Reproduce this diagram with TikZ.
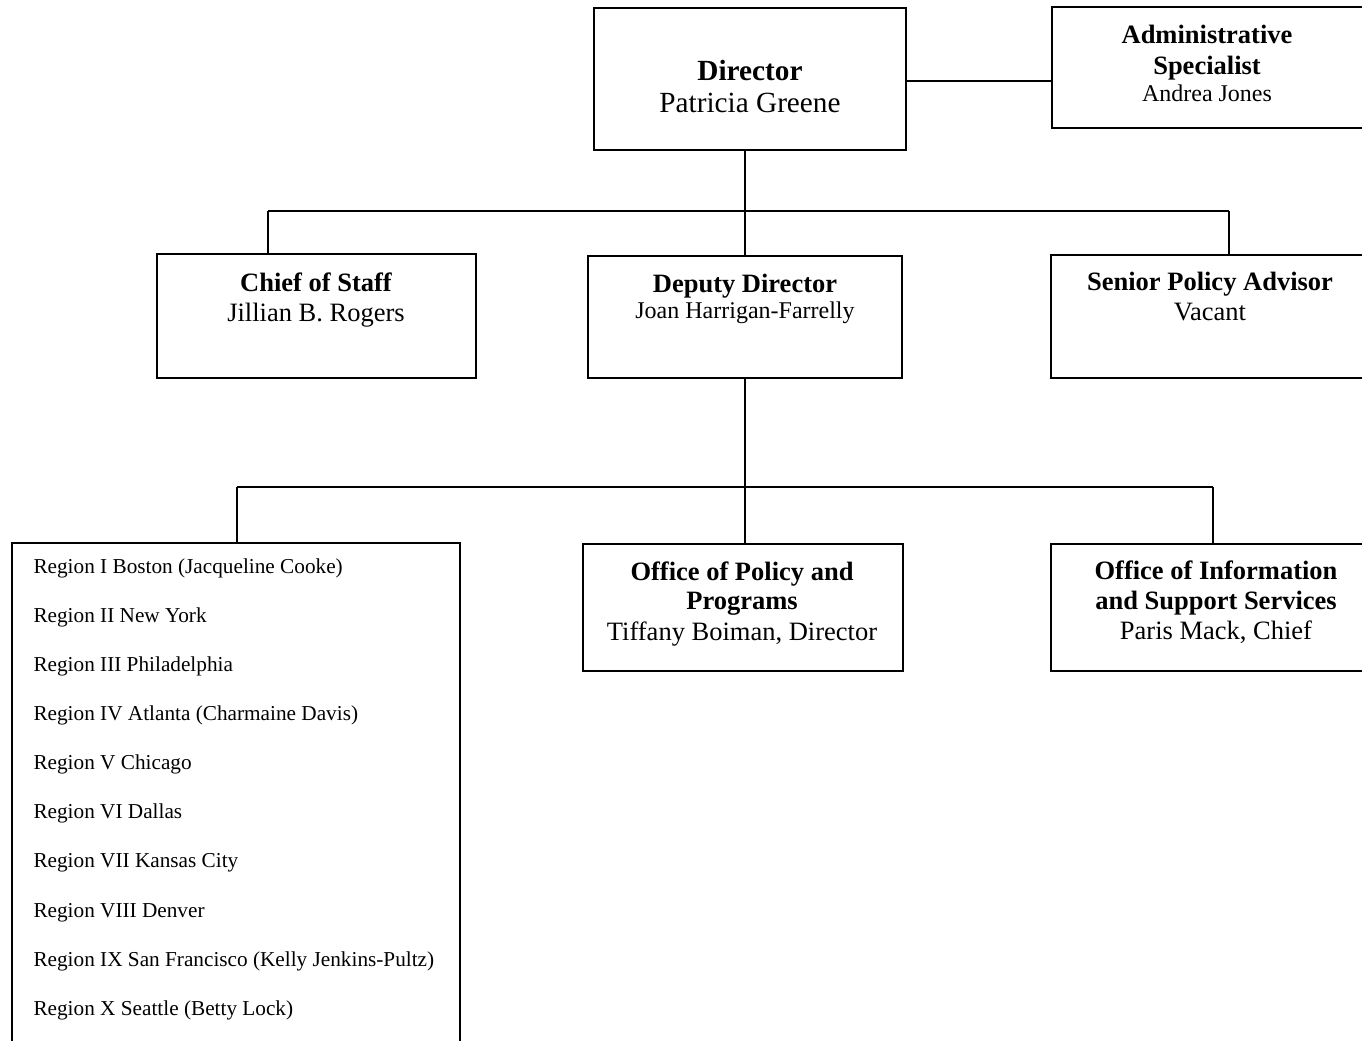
\documentclass[tikz,border=0pt]{standalone}
\usepackage{fontspec}
\setmainfont{Liberation Serif}
\usetikzlibrary{fit}
\tikzset{
  orgbox/.style={draw, line width=0.8pt, inner sep=0pt},
  link/.style={line width=0.8pt},
  txt/.style={anchor=base, inner sep=0pt},
  lead/.style={txt, font=\fontsize{11.7}{14}\selectfont},
  head/.style={txt, font=\fontsize{10.6}{13}\selectfont},
  sub/.style={txt, font=\fontsize{9.6}{12}\selectfont},
  region/.style={anchor=base west, inner sep=0pt, font=\fontsize{8.5}{10}\selectfont},
}
\begin{document}
\begin{tikzpicture}[x=0.4pt, y=-0.4pt]
  \useasboundingbox (0,0) rectangle (1362,1041);

  % boxes
  \node[orgbox, fit={(594,8) (906,150)}] (dir) {};
  \node[orgbox, fit={(1052,7) (1380,128)}] (adm) {};
  \node[orgbox, fit={(157,254) (476,378)}] (cos) {};
  \node[orgbox, fit={(588,256) (902,378)}] (dep) {};
  \node[orgbox, fit={(1051,255) (1380,378)}] (spa) {};
  \node[orgbox, fit={(12,543) (460,1070)}] (reg) {};
  \node[orgbox, fit={(583,544) (903,671)}] (opp) {};
  \node[orgbox, fit={(1051,544) (1380,671)}] (ois) {};

  % texts
  \node[lead] (dirA) at (750,80) {\bfseries Director};
  \node[lead] (dirB) at (750,112) {Patricia Greene};

  \node[head] (admA) at (1207,43) {\bfseries Administrative};
  \node[head] (admB) at (1207,74) {\bfseries Specialist};
  \node[sub]  (admC) at (1207,101) {Andrea Jones};

  \node[head] (cosA) at (316,291) {\bfseries Chief of Staff};
  \node[head] (cosB) at (316,321) {Jillian B. Rogers};

  \node[head] (depA) at (745,292) {\bfseries Deputy Director};
  \node[sub]  (depB) at (745,318) {Joan Harrigan-Farrelly};

  \node[head] (spaA) at (1210,290) {\bfseries Senior Policy Advisor};
  \node[head] (spaB) at (1210,320) {Vacant};

  \node[head] (oppA) at (742,580) {\bfseries Office of Policy and};
  \node[head] (oppB) at (742,609) {\bfseries Programs};
  \node[head] (oppC) at (742,640) {Tiffany Boiman, Director};

  \node[head] (oisA) at (1216,579) {\bfseries Office of Information};
  \node[head] (oisB) at (1216,609) {\bfseries and Support Services};
  \node[head] (oisC) at (1216,639) {Paris Mack, Chief};

  \node[region] (r1)  at (33,573.3) {Region I Boston (Jacqueline Cooke)};
  \node[region] (r2)  at (33,622.4) {Region II New York};
  \node[region] (r3)  at (33,671.5) {Region III Philadelphia};
  \node[region] (r4)  at (33,720.6) {Region IV Atlanta (Charmaine Davis)};
  \node[region] (r5)  at (33,769.7) {Region V Chicago};
  \node[region] (r6)  at (33,818.8) {Region VI Dallas};
  \node[region] (r7)  at (33,867.9) {Region VII Kansas City};
  \node[region] (r8)  at (33,917.0) {Region VIII Denver};
  \node[region] (r9)  at (33,966.1) {Region IX San Francisco (Kelly Jenkins-Pultz)};
  \node[region] (r10) at (33,1015.2) {Region X Seattle (Betty Lock)};

  % bus lines
  \coordinate (b1l) at (268,211);
  \coordinate (b1r) at (1229,211);
  \coordinate (b2l) at (237,487);
  \coordinate (b2r) at (1213,487);

  % connectors
  \draw[link] ([yshift=-0.8pt]dir.east) -- ([yshift=-0.8pt]dir.east -| adm.west);
  \draw[link] (dep.north |- dir.south) -- (dep.north);
  \draw[link] (b1l) -- (b1r);
  \draw[link] (b1l) -- (b1l |- cos.north);
  \draw[link] (b1r) -- (b1r |- spa.north);
  \draw[link] (dep.south) -- (dep.south |- opp.north);
  \draw[link] (b2l) -- (b2r);
  \draw[link] (b2l) -- (b2l |- reg.north);
  \draw[link] (b2r) -- (b2r |- ois.north);
\end{tikzpicture}
\end{document}
